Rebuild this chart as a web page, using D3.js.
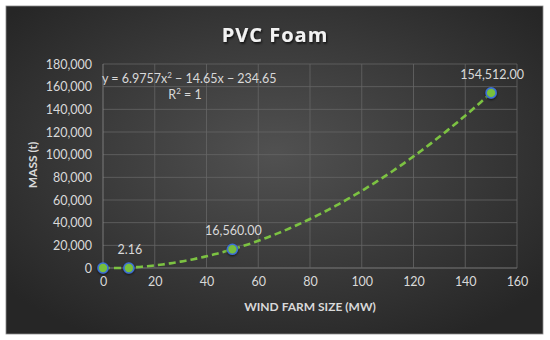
<!DOCTYPE html>
<html>
<head>
<meta charset="utf-8">
<script src="https://cdn.jsdelivr.net/npm/d3@7"></script>
<style>
  body { margin: 0; background: #fff; }
  text { font-family: Lato, "Open Sans", sans-serif; }
</style>
</head>
<body>
<script>
'use strict';

// chart values
const windFarm = [0, 10, 50, 150];
const mass = [0, 2.16, 16560, 154512];
const pointLabels = ["", "2.16", "16,560.00", "154,512.00"];
const xTicks = [0, 20, 40, 60, 80, 100, 120, 140, 160];
const yTicks = [0, 20000, 40000, 60000, 80000, 100000, 120000, 140000, 160000, 180000];
const trendCoef = [6.9757, -14.65, -234.65]; // a, b, c from the chart's equation

(function() {
    const svg = d3.select("body").append("svg")
        .attr("width", 550)
        .attr("height", 340);

    const defs = svg.append("defs");
    const grad = defs.append("radialGradient")
        .attr("id", "bg")
        .attr("cx", "50%").attr("cy", "45%").attr("r", "65%");
    grad.append("stop").attr("offset", "0%").attr("stop-color", "#515151");
    grad.append("stop").attr("offset", "100%").attr("stop-color", "#262626");

    const shadow = defs.append("filter").attr("id", "shadow")
        .attr("x", "-10%").attr("y", "-30%").attr("width", "120%").attr("height", "160%");
    shadow.append("feDropShadow")
        .attr("dx", 1).attr("dy", 1.5).attr("stdDeviation", 1)
        .attr("flood-color", "#000").attr("flood-opacity", 0.8);

    const ptShadow = defs.append("filter").attr("id", "ptshadow")
        .attr("x", "-50%").attr("y", "-50%").attr("width", "200%").attr("height", "200%");
    ptShadow.append("feDropShadow")
        .attr("dx", 0).attr("dy", 1).attr("stdDeviation", 1.2)
        .attr("flood-color", "#000").attr("flood-opacity", 0.7);

    // panel
    svg.append("rect")
        .attr("x", 6).attr("y", 6)
        .attr("width", 537).attr("height", 328)
        .attr("fill", "url(#bg)")
        .attr("stroke", "#8a8a8a")
        .attr("stroke-width", 0.8);

    const x = d3.scaleLinear().domain([0, 160]).range([103, 517]);
    const y = d3.scaleLinear().domain([0, 180000]).range([268, 64]);

    // gridlines
    svg.append("g").selectAll("line")
        .data(yTicks)
        .enter()
        .append("line")
        .attr("x1", x(0)).attr("x2", x(160))
        .attr("y1", d => y(d)).attr("y2", d => y(d))
        .attr("stroke", d => d === 0 ? "#8c8c8c" : "#666")
        .attr("stroke-width", 0.8);

    svg.append("g").selectAll("line")
        .data(xTicks)
        .enter()
        .append("line")
        .attr("x1", d => x(d)).attr("x2", d => x(d))
        .attr("y1", y(0)).attr("y2", y(180000))
        .attr("stroke", d => d === 0 ? "#8c8c8c" : "#666")
        .attr("stroke-width", 0.8);

    // axes (labels only)
    const fmt = d3.format(",");
    const yAxis = svg.append("g")
        .attr("transform", "translate(" + x(0) + ",0)")
        .call(d3.axisLeft(y).tickValues(yTicks).tickFormat(fmt).tickSize(0).tickPadding(11));
    const xAxis = svg.append("g")
        .attr("transform", "translate(0," + y(0) + ")")
        .call(d3.axisBottom(x).tickValues(xTicks).tickSize(0).tickPadding(9));
    [xAxis, yAxis].forEach(function(ax) {
        ax.select(".domain").remove();
        ax.selectAll("text")
            .attr("fill", "#d9d9d9")
            .style("font-size", "12.5px")
            .style("font-family", "Lato, 'Open Sans', sans-serif");
    });

    // trendline from the displayed equation
    const trend = d3.range(0, 150.5, 1).map(function(v) {
        return [v, trendCoef[0] * v * v + trendCoef[1] * v + trendCoef[2]];
    });
    svg.append("path")
        .datum(trend)
        .attr("fill", "none")
        .attr("stroke", "#7cc242")
        .attr("stroke-width", 2.6)
        .attr("stroke-dasharray", "7,4")
        .attr("d", d3.line()
            .x(d => x(d[0]))
            .y(d => y(Math.max(d[1], 0))));

    // points
    const pts = windFarm.map((v, i) => ({ x: v, y: mass[i], label: pointLabels[i] }));
    svg.append("g").selectAll("circle")
        .data(pts)
        .enter()
        .append("circle")
        .attr("cx", d => x(d.x))
        .attr("cy", d => y(d.y))
        .attr("r", 5)
        .attr("fill", "#78bf3c")
        .attr("stroke", "#3d6fd6")
        .attr("stroke-width", 1.6)
        .attr("filter", "url(#ptshadow)");

    svg.append("g").selectAll("text")
        .data(pts)
        .enter()
        .append("text")
        .attr("x", d => x(d.x) + 1)
        .attr("y", d => y(d.y) - 14)
        .attr("text-anchor", "middle")
        .attr("fill", "#d9d9d9")
        .style("font-size", "12.5px")
        .text(d => d.label);

    // trendline equation
    const eq = svg.append("text")
        .attr("x", 102)
        .attr("y", 83)
        .attr("fill", "#d9d9d9")
        .style("font-size", "12.5px");
    eq.append("tspan").text("y = " + trendCoef[0] + "x");
    eq.append("tspan").attr("dy", -5).style("font-size", "8px").text("2");
    eq.append("tspan").attr("dy", 5).text(" \u2212 " + Math.abs(trendCoef[1]) + "x \u2212 " + Math.abs(trendCoef[2]));

    const r2 = svg.append("text")
        .attr("x", 185)
        .attr("y", 99)
        .attr("text-anchor", "middle")
        .attr("fill", "#d9d9d9")
        .style("font-size", "12.5px");
    r2.append("tspan").text("R");
    r2.append("tspan").attr("dy", -5).style("font-size", "8px").text("2");
    r2.append("tspan").attr("dy", 5).text(" = 1");

    // title
    svg.append("text")
        .attr("x", 275)
        .attr("y", 42)
        .attr("text-anchor", "middle")
        .attr("fill", "#f2f2f2")
        .attr("font-weight", "bold")
        .attr("filter", "url(#shadow)")
        .style("font-size", "20px")
        .style("font-family", "'Open Sans', Lato, sans-serif")
        .style("letter-spacing", "1px")
        .text("PVC Foam");

    // axis titles
    svg.append("text")
        .attr("x", 310)
        .attr("y", 311)
        .attr("text-anchor", "middle")
        .attr("fill", "#d9d9d9")
        .attr("font-weight", "bold")
        .style("font-size", "12px")
        .text("WIND FARM SIZE (MW)");

    svg.append("text")
        .attr("transform", "translate(37,165) rotate(-90)")
        .attr("text-anchor", "middle")
        .attr("fill", "#d9d9d9")
        .attr("font-weight", "bold")
        .style("font-size", "12px")
        .text("MASS (t)");
})();
</script>
</body>
</html>
